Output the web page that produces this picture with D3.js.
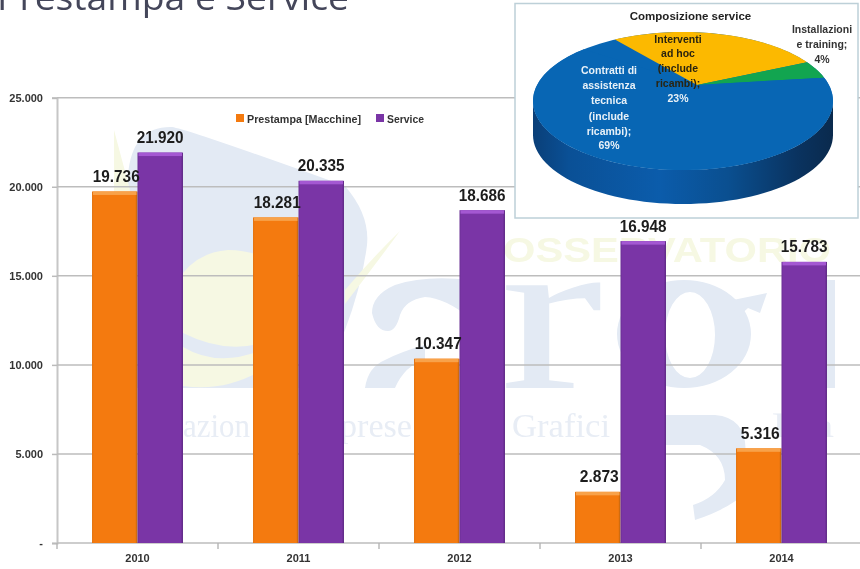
<!DOCTYPE html>
<html><head><meta charset="utf-8">
<style>html,body{margin:0;padding:0;background:#fff;overflow:hidden}svg{display:block;filter:blur(0.45px)}
text{font-family:"Liberation Sans",Arial,sans-serif}</style>
<script src="https://cdn.jsdelivr.net/npm/d3@7"></script></head><body><svg id="c" width="860" height="569"></svg>
<script>
const years=["2010","2011","2012","2013","2014"];
const seriesNames=["Prestampa [Macchine]","Service"];
const prestampa=[19736,18281,10347,2873,5316];
const service=[21920,20335,18686,16948,15783];
const yTicks=[0,5000,10000,15000,20000,25000];
const pieNames=["Interventi ad hoc (include ricambi)","Installazioni e training","Contratti di assistenza tecnica (include ricambi)"];
const pieValues=[23,4,69];
const fmt=v=>v===0?"-":d3.format(",")(v).replace(/,/g,".");
const svg=d3.select("#c");
const defs=svg.append("defs");
function hgrad(id,stops){const g=defs.append("linearGradient").attr("id",id);stops.forEach(s=>g.append("stop").attr("offset",s[0]).attr("stop-color",s[1]));}
hgrad("gO",[[0,"#e07210"],[.04,"#f47a0f"],[.95,"#f47a0f"],[1,"#b4600f"]]);
hgrad("gP",[[0,"#6a2f94"],[.04,"#7a35a6"],[.95,"#7a35a6"],[1,"#5c2882"]]);
hgrad("gS",[[0,"#0a3f78"],[.12,"#0a5096"],[.42,"#0b5cab"],[.65,"#0a4f90"],[.88,"#0a3360"],[1,"#0a2a4d"]]);

// watermark
const wm=svg.append("g");
const B="#e3eaf4",Y="#f6f8e3";
wm.append("path").attr("fill",B).attr("d","M128,175 Q132,126 172,127 Q190,130 345,186 Q370,215 367,245 Q362,285 345,330 L320,388 L130,388Z");
wm.append("path").attr("fill",Y).attr("d","M183,273 Q200,252 228,250 Q245,250 262,256 L262,343 Q225,354 183,333Z");
wm.append("path").attr("fill",Y).attr("d","M183,347 Q218,368 262,350 L262,370 Q225,392 183,386Z");
wm.append("path").attr("fill",Y).attr("d","M114,130 L130,190 L125,215 L114,215Z");
wm.append("path").attr("fill",Y).attr("d","M400,231 Q375,265 345,304 L345,290 Q372,258 400,231Z");
// big letters
wm.append("path").attr("fill",B).attr("d","M372,313 Q372,295 395,285 Q425,275 470,280 L470,318 Q445,298 425,297 Q405,300 400,315 Q396,331 388,331 Q376,331 372,313Z");
wm.append("path").attr("fill",B).attr("d","M365,388 Q368,367 385,360 Q400,352 425,345 L425,360 Q405,365 395,388Z");
wm.append("text").attr("transform","translate(500,388) scale(1.38,1)").attr("font-size",224).attr("fill",B).style("font-family","Liberation Serif").text("r");
wm.append("path").attr("fill",B).attr("fill-rule","evenodd").attr("d","M617,334 a67,54 0 1,0 134,0 a67,54 0 1,0 -134,0Z M665,335 a25,43 0 1,0 50,0 a25,43 0 1,0 -50,0Z");
wm.append("path").attr("fill",B).attr("d","M733,300 L767,293 L760,313 L748,308 L735,320Z");
wm.append("path").attr("fill",B).attr("d","M660,415 L715,415 Q750,418 745,460 L737,500 Q720,512 695,520 L693,505 Q715,498 725,480 Q725,455 700,445 L660,445Z");
wm.append("rect").attr("x",790).attr("y",280).attr("width",45).attr("height",108).attr("fill",B);
wm.append("text").attr("x",503).attr("y",262).attr("font-size",35).attr("font-weight","bold").attr("fill",Y).attr("textLength",328).attr("lengthAdjust","spacingAndGlyphs").text("OSSERVATORIO");
[["azion",183,67],["prese",340,72],["Grafici",512,98],["l'ia",772,62]].forEach(d=>wm.append("text").attr("x",d[1]).attr("y",437).attr("font-size",34).attr("fill","#e8edf5").attr("textLength",d[2]).attr("lengthAdjust","spacingAndGlyphs").style("font-family","Liberation Serif").text(d[0]));

// title
svg.append("text").attr("x",-3).attr("y",10).attr("font-size",35).attr("fill","#44465a").attr("textLength",352).attr("lengthAdjust","spacingAndGlyphs").style("font-family","Open Sans").text("Prestampa e Service");

// scales
const left=57,right=862,y0=543,y1=97.7;
const x=d3.scaleBand().domain(years).range([left,right]).paddingInner(.435).paddingOuter(.2175);
const y=d3.scaleLinear().domain([0,25000]).range([y0,y1]);
const xs=d3.scaleBand().domain(seriesNames).range([0,x.bandwidth()]);

// grid and axes
const gy=svg.append("g").attr("transform",`translate(${left},0)`).call(d3.axisLeft(y).tickValues(yTicks).tickSize(5).tickPadding(9).tickFormat(fmt));
gy.select(".domain").attr("stroke","#c6c6c6").attr("stroke-width",2);
gy.selectAll(".tick line").attr("stroke","#bbb").attr("stroke-width",1.5);
gy.selectAll("text").attr("font-size",11).attr("font-weight","bold").attr("fill","#333").style("font-family","Liberation Sans");
svg.append("g").selectAll("line").data(yTicks).join("line").attr("x1",left).attr("x2",860).attr("y1",y).attr("y2",y).attr("stroke","#bdbdbd").attr("stroke-width",1.5);
const gx=svg.append("g").attr("transform",`translate(0,${y0})`).call(d3.axisBottom(x).tickSize(0).tickPadding(11));
gx.select(".domain").remove();
gx.selectAll("text").attr("font-size",11).attr("font-weight","bold").attr("fill","#333").style("font-family","Liberation Sans");
svg.append("g").selectAll("line").data(d3.range(years.length+1)).join("line").attr("x1",i=>left+i*x.step()).attr("x2",i=>left+i*x.step()).attr("y1",y0).attr("y2",y0+6).attr("stroke","#b5b5b5").attr("stroke-width",1.4);

// bars
[[prestampa,"gO","#f8a24a",0],[service,"gP","#a458d2",1]].forEach(([vals,grad,top,k])=>{
  const g=svg.append("g");
  g.selectAll("rect.b").data(vals).join("rect").attr("class","b").attr("x",(d,i)=>x(years[i])+xs(seriesNames[k])).attr("y",d=>y(d)).attr("width",xs.bandwidth()).attr("height",d=>y0-y(d)).attr("fill",`url(#${grad})`);
  g.selectAll("rect.t").data(vals).join("rect").attr("class","t").attr("x",(d,i)=>x(years[i])+xs(seriesNames[k])+1).attr("y",d=>y(d)).attr("width",xs.bandwidth()-2).attr("height",3.5).attr("fill",top);
});
// labels on top of bars
[[prestampa,0],[service,1]].forEach(([vals,k])=>{
  svg.append("g").selectAll("text").data(vals).join("text").attr("x",(d,i)=>x(years[i])+xs(seriesNames[k])+xs.bandwidth()/2+(k?0:1.5)).attr("y",d=>y(d)-9.5).attr("text-anchor","middle").attr("font-size",16.5).attr("font-weight","bold").attr("fill","#1c1c1c").attr("textLength",d=>fmt(d).length*7.8).attr("lengthAdjust","spacingAndGlyphs").text(fmt);
});
// legend
const lg=svg.append("g");
[[236,247,"#f47a0f",0,114],[376,387,"#7a35a6",1,37]].forEach(d=>{
  lg.append("rect").attr("x",d[0]).attr("y",114).attr("width",8).attr("height",8).attr("fill",d[2]);
  lg.append("text").attr("x",d[1]).attr("y",122.5).attr("font-size",11).attr("font-weight","bold").attr("fill","#333").attr("textLength",d[4]).attr("lengthAdjust","spacingAndGlyphs").text(seriesNames[d[3]]);
});

// inset pie
svg.append("rect").attr("x",515).attr("y",3.5).attr("width",343).attr("height",214.5).attr("fill","#fff").attr("stroke","#bdd0d8").attr("stroke-width",1.5);
svg.append("text").attr("x",690.5).attr("y",20).attr("text-anchor","middle").attr("font-size",11.5).attr("font-weight","bold").attr("fill","#222").text("Composizione service");
const cx=683,cy=101,rx=150,ry=69,depth=34,ax=697,ay=85;
const pt=a=>[cx+rx*Math.sin(a),cy-ry*Math.cos(a)];
const ln=d3.line();
const side=d3.range(90,270.01,3).map(a=>pt(a*Math.PI/180));
svg.append("path").attr("d",ln(side.concat(side.slice().reverse().map(p=>[p[0],p[1]+depth])))+"Z").attr("fill","url(#gS)");
svg.append("ellipse").attr("cx",cx).attr("cy",cy).attr("rx",rx).attr("ry",ry).attr("fill","#0866b4");
const start=-27*Math.PI/180;
const arcs=d3.pie().sort(null).startAngle(start).endAngle(start+2*Math.PI*d3.sum(pieValues)/100)(pieValues);
const pieCol=["#fcb900","#12a550","#0866b4"];
svg.append("g").selectAll("path").data(arcs).join("path").attr("fill",(d,i)=>pieCol[i]).attr("d",d=>{
  const n=Math.ceil((d.endAngle-d.startAngle)/.03);
  const pts=d3.range(n+1).map(i=>pt(d.startAngle+(d.endAngle-d.startAngle)*i/n));
  return ln([[ax,ay],...pts])+"Z";
});
const lab=svg.append("g").attr("font-size",10.5).attr("font-weight","bold").attr("text-anchor","middle");
function block(lines,xc,ys,col){lines.forEach((t,i)=>lab.append("text").attr("x",xc).attr("y",ys[i]).attr("fill",Array.isArray(col)?col[i]:col).text(t));}
block(["Interventi","ad hoc","(include","ricambi);","23%"],678,[43,57,72,87,102],["#2a2410","#2a2410","#2a2410","#2a2410","#e8f0f6"]);
block(["Contratti di","assistenza","tecnica","(include","ricambi);","69%"],609,[74,89,104,120,135,149],"#e8f1f8");
block(["Installazioni","e training;","4%"],822,[33,48,63],"#333");
</script></body></html>
